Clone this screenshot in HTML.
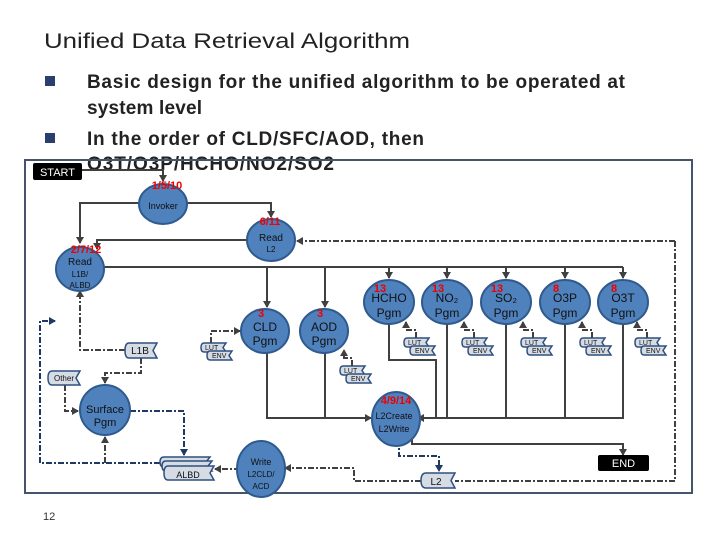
<!DOCTYPE html>
<html><head><meta charset="utf-8"><style>
body{margin:0;background:#fff;width:720px;height:540px;overflow:hidden;font-family:"Liberation Sans",sans-serif}
svg{display:block}
</style></head><body>
<svg width="720" height="540" viewBox="0 0 720 540" xmlns="http://www.w3.org/2000/svg" font-family="Liberation Sans, sans-serif">
<defs>
<marker id="a" markerWidth="8" markerHeight="8" refX="6" refY="4" orient="auto" markerUnits="userSpaceOnUse"><path d="M0,0 L7,4 L0,8 Z" fill="#404040"/></marker>
<marker id="b" markerWidth="8" markerHeight="8" refX="6" refY="4" orient="auto" markerUnits="userSpaceOnUse"><path d="M0,0 L7,4 L0,8 Z" fill="#1f3864"/></marker>
</defs>
<text x="44" y="48" font-size="21" fill="#222" textLength="366" lengthAdjust="spacingAndGlyphs">Unified Data Retrieval Algorithm</text>
<rect x="45" y="76" width="10" height="10" fill="#2a3f6e"/>
<rect x="45" y="133" width="10" height="10" fill="#2a3f6e"/>
<g font-size="19" font-weight="bold" fill="#222" lengthAdjust="spacingAndGlyphs">
<text x="87" y="88" textLength="538">Basic design for the unified algorithm to be operated at</text>
<text x="87" y="114" textLength="115">system level</text>
<text x="87" y="145" textLength="337">In the order of CLD/SFC/AOD, then</text>
<text x="87" y="170" textLength="247">O3T/O3P/HCHO/NO2/SO2</text>
</g>
<!-- frame -->
<rect x="25" y="160" width="667" height="333" fill="none" stroke="#44546a" stroke-width="2"/>
<rect x="33" y="163" width="49" height="17" fill="#000" rx="2"/>
<text x="57.5" y="176" font-size="11" fill="#fff" text-anchor="middle">START</text>
<g fill="none" stroke="#404040" stroke-width="2">
<path d="M82,170 H163 V181" marker-end="url(#a)"/>
<path d="M139,203 H80 V243" marker-end="url(#a)"/>
<path d="M187,203 H271 V217" marker-end="url(#a)"/>
<path d="M247,240 H97 V249" marker-end="url(#a)"/>
<path d="M104,267 H623"/>
<path d="M267,267 V307" marker-end="url(#a)"/>
<path d="M325,267 V307" marker-end="url(#a)"/>
<path d="M389,267 V278" marker-end="url(#a)"/>
<path d="M447,267 V278" marker-end="url(#a)"/>
<path d="M506,267 V278" marker-end="url(#a)"/>
<path d="M565,267 V278" marker-end="url(#a)"/>
<path d="M623,267 V278" marker-end="url(#a)"/>
<path d="M267,353 V418 H371" marker-end="url(#a)"/>
<path d="M325,353 V418"/>
<path d="M389,324 V360 H436 V418"/>
<path d="M447,324 V418"/>
<path d="M506,324 V418"/>
<path d="M565,324 V418"/>
<path d="M623,324 V418 H418" marker-end="url(#a)"/>
<path d="M412,436 V444 H623 V455" marker-end="url(#a)"/>
</g>
<g fill="none" stroke="#404040" stroke-width="2" stroke-dasharray="6,2,2,2">
<path d="M675,241 H297" marker-end="url(#a)"/>
<path d="M675,241 V481 H455"/>
<path d="M421,481 H354 V468 H285" marker-end="url(#a)"/>
<path d="M240,469 H215" marker-end="url(#a)"/>
<path d="M399,440 V456 H439 V471" stroke="#1f3864" marker-end="url(#b)"/>
<path d="M130,411 H184 V455" stroke="#1f3864" marker-end="url(#b)"/>
<path d="M160,463 H40 V321 H55" stroke="#1f3864" marker-end="url(#b)"/>
<path d="M105,463 V437" marker-end="url(#a)"/>
<path d="M125,350 H80 V291" marker-end="url(#a)"/>
<path d="M141,358 V373 H105 V383" marker-end="url(#a)"/>
<path d="M65,385 V411 H78" marker-end="url(#a)"/>
<path d="M211,343 V331 H240" marker-end="url(#a)"/>
<path d="M352,366 V358 H344 V350" marker-end="url(#a)"/>
<path d="M416,338 V330 H406 V322" marker-end="url(#a)"/>
<path d="M474,338 V330 H464 V322" marker-end="url(#a)"/>
<path d="M533,338 V330 H523 V322" marker-end="url(#a)"/>
<path d="M592,338 V330 H582 V322" marker-end="url(#a)"/>
<path d="M647,338 V330 H637 V322" marker-end="url(#a)"/>
</g>
<!-- ellipses -->
<g fill="#4f81bd" stroke="#2f5a8e" stroke-width="2">
<ellipse cx="163" cy="204" rx="24" ry="20"/>
<ellipse cx="271" cy="240" rx="24" ry="21"/>
<ellipse cx="80" cy="269" rx="24" ry="22"/>
<ellipse cx="265" cy="331" rx="24" ry="22"/>
<ellipse cx="324" cy="331" rx="24" ry="22"/>
<ellipse cx="389" cy="302" rx="25" ry="22"/>
<ellipse cx="447" cy="302" rx="25" ry="22"/>
<ellipse cx="506" cy="302" rx="25" ry="22"/>
<ellipse cx="565" cy="302" rx="25" ry="22"/>
<ellipse cx="623" cy="302" rx="25" ry="22"/>
<ellipse cx="105" cy="410" rx="25" ry="25"/>
<ellipse cx="396" cy="419" rx="24" ry="27"/>
<ellipse cx="261" cy="469" rx="24" ry="28"/>
</g>
<g fill="#111" text-anchor="middle">
<text x="163" y="209" font-size="9">Invoker</text>
<text x="271" y="241" font-size="10">Read</text><text x="271" y="252" font-size="8">L2</text>
<text x="80" y="265" font-size="10">Read</text><text x="80" y="277" font-size="8">L1B/</text><text x="80" y="288" font-size="8">ALBD</text>
<text x="265" y="331" font-size="12">CLD</text><text x="265" y="345" font-size="12">Pgm</text>
<text x="324" y="331" font-size="12">AOD</text><text x="324" y="345" font-size="12">Pgm</text>
<text x="389" y="302" font-size="12">HCHO</text><text x="389" y="317" font-size="12">Pgm</text>
<text x="447" y="302" font-size="12">NO₂</text><text x="447" y="317" font-size="12">Pgm</text>
<text x="506" y="302" font-size="12">SO₂</text><text x="506" y="317" font-size="12">Pgm</text>
<text x="565" y="302" font-size="12">O3P</text><text x="565" y="317" font-size="12">Pgm</text>
<text x="623" y="302" font-size="12">O3T</text><text x="623" y="317" font-size="12">Pgm</text>
<text x="105" y="413" font-size="11">Surface</text><text x="105" y="426" font-size="11">Pgm</text>
<text x="394" y="419" font-size="9">L2Create</text><text x="394" y="432" font-size="9">L2Write</text>
<text x="261" y="465" font-size="9">Write</text><text x="261" y="477" font-size="8">L2CLD/</text><text x="261" y="489" font-size="8">ACD</text>
</g>
<g fill="#e00" font-size="11" font-weight="bold" text-anchor="middle">
<text x="167" y="189">1/5/10</text>
<text x="270" y="225">6/11</text>
<text x="86" y="253">2/7/12</text>
<text x="261" y="317">3</text>
<text x="320" y="317">3</text>
<text x="380" y="292">13</text>
<text x="438" y="292">13</text>
<text x="497" y="292">13</text>
<text x="556" y="292">8</text>
<text x="614" y="292">8</text>
<text x="396" y="404">4/9/14</text>
</g>
<!-- tags -->
<g fill="#d6dce4" stroke="#2f4f7f" stroke-width="1.5" font-size="9">
<path d="M129,343 H157 L153,350.5 L157,358 H129 Q125,358 125,350.5 Q125,343 129,343 Z"/>
<path d="M52,371 H80 L76,378 L80,385 H52 Q48,385 48,378 Q48,371 52,371 Z"/>
<path d="M426,473 H455 L451,480.5 L455,488 H426 Q421,488 421,480.5 Q421,473 426,473 Z"/>
<path d="M164,457 H210 L206,462 L210,467 H164 Q160,467 160,462 Q160,457 164,457 Z"/>
<path d="M166,461 H212 L208,466 L212,471 H166 Q162,471 162,466 Q162,461 166,461 Z"/>
<path d="M168,466 H214 L210,473 L214,480 H168 Q164,480 164,473 Q164,466 168,466 Z"/>
</g>
<g font-size="10" fill="#111" text-anchor="middle">
<text x="140" y="354">L1B</text>
<text x="64" y="381" font-size="8">Other</text>
<text x="436" y="485">L2</text>
<text x="188" y="478" font-size="9">ALBD</text>
</g>
<g id="lut" fill="#d6dce4" stroke="#2f4f7f" stroke-width="1.5">
<path d="M204,343 H226 L223,347.5 L226,352 H204 Q201,352 201,347.5 Q201,343 204,343 Z"/>
<path d="M210,351 H232 L229,355.5 L232,360 H210 Q207,360 207,355.5 Q207,351 210,351 Z"/>
</g>
<g font-size="7" fill="#111"><text x="205" y="350">LUT</text><text x="212" y="358">ENV</text></g>
<use href="#lut" x="139" y="23"/><g font-size="7" fill="#111"><text x="344" y="373">LUT</text><text x="351" y="381">ENV</text></g>
<use href="#lut" x="203" y="-5"/><g font-size="7" fill="#111"><text x="408" y="345">LUT</text><text x="415" y="353">ENV</text></g>
<use href="#lut" x="261" y="-5"/><g font-size="7" fill="#111"><text x="466" y="345">LUT</text><text x="473" y="353">ENV</text></g>
<use href="#lut" x="320" y="-5"/><g font-size="7" fill="#111"><text x="525" y="345">LUT</text><text x="532" y="353">ENV</text></g>
<use href="#lut" x="379" y="-5"/><g font-size="7" fill="#111"><text x="584" y="345">LUT</text><text x="591" y="353">ENV</text></g>
<use href="#lut" x="434" y="-5"/><g font-size="7" fill="#111"><text x="639" y="345">LUT</text><text x="646" y="353">ENV</text></g>
<rect x="598" y="455" width="51" height="16" fill="#000" rx="2"/>
<text x="623.5" y="467" font-size="11" fill="#fff" text-anchor="middle">END</text>
<text x="43" y="520" font-size="11" fill="#333">12</text>
</svg>
</body></html>
